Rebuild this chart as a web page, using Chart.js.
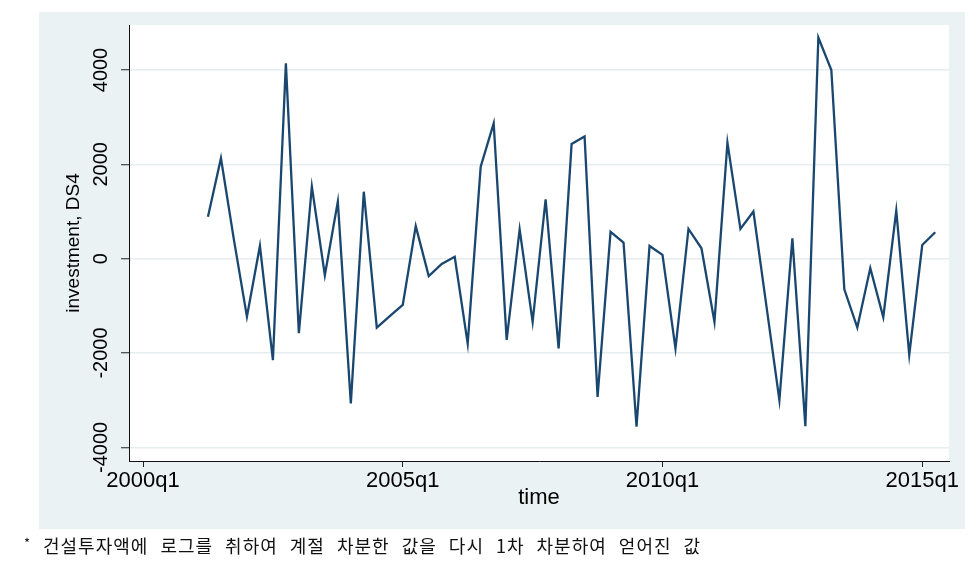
<!DOCTYPE html>
<html>
<head>
<meta charset="utf-8">
<script src="https://cdn.jsdelivr.net/npm/chart.js@4.4.1/dist/chart.umd.min.js"></script>
<style>
    html, body { margin: 0; padding: 0; background: #fff; }
    #wrap { position: relative; width: 976px; height: 563px; overflow: hidden; }
    #chart { position: absolute; left: 0; top: 0; }
    .note { position: absolute; font-family: "Noto Sans CJK KR", sans-serif; color: #111; white-space: nowrap; }
</style>
</head>
<body>
<div id="wrap">
    <canvas id="chart" width="976" height="563"></canvas>
    <span class="note" style="left:24px; top:533px; font-size:13px;">*</span>
    <span class="note" style="left:43px; top:535px; font-size:18px; line-height:20px; letter-spacing:1px; word-spacing:7px;">건설투자액에 로그를 취하여 계절 차분한 값을 다시 1차 차분하여 얻어진 값</span>
</div>
<script>
// Quarters with data (2001q2 .. 2015q2)
const quarters = [
    '2001q2', '2001q3', '2001q4', '2002q1', '2002q2', '2002q3', '2002q4',
    '2003q1', '2003q2', '2003q3', '2003q4', '2004q1', '2004q2', '2004q3', '2004q4',
    '2005q1', '2005q2', '2005q3', '2005q4', '2006q1', '2006q2', '2006q3', '2006q4',
    '2007q1', '2007q2', '2007q3', '2007q4', '2008q1', '2008q2', '2008q3', '2008q4',
    '2009q1', '2009q2', '2009q3', '2009q4', '2010q1', '2010q2', '2010q3', '2010q4',
    '2011q1', '2011q2', '2011q3', '2011q4', '2012q1', '2012q2', '2012q3', '2012q4',
    '2013q1', '2013q2', '2013q3', '2013q4', '2014q1', '2014q2', '2014q3', '2014q4',
    '2015q1', '2015q2'
];

// investment, DS4
const investmentDS4 = [
    890, 2130, 400, -1230, 270, -2150, 4140,
    -1580, 1530, -350, 1210, -3070, 1420, -1460, -1220,
    -980, 690, -370, -110, 40, -1800, 1950, 2870,
    -1720, 620, -1340, 1260, -1900, 2430, 2590, -2930,
    570, 340, -3560, 270, 80, -1900, 630, 220,
    -1340, 2460, 630, 1000, -1000, -3000, 430, -3550,
    4690, 4000, -650, -1460, -200, -1240, 1020, -2040,
    290, 560
];

const xTickLabels = ['2000q1', '2005q1', '2010q1', '2015q1'];
const yTickValues = [-4000, -2000, 0, 2000, 4000];

const FONT = '"Liberation Sans", Arial, sans-serif';

// quarter label -> number of quarters since 2000q1
function quarterIndex(label) {
    const year = parseInt(label.slice(0, 4), 10);
    const q = parseInt(label.slice(5), 10);
    return (year - 2000) * 4 + (q - 1);
}

const xTickValues = xTickLabels.map(quarterIndex);
const points = quarters.map((q, i) => ({ x: quarterIndex(q), y: investmentDS4[i] }));

// Stata-like backdrop: light panel with white plot region
const backdrop = {
    id: 'backdrop',
    beforeDraw(chart) {
        const { ctx, chartArea: a } = chart;
        ctx.save();
        ctx.fillStyle = '#fff';
        ctx.fillRect(0, 0, chart.width, chart.height);
        ctx.fillStyle = '#EAF2F3';
        ctx.fillRect(39, 12, 926, 517);
        ctx.fillStyle = '#fff';
        ctx.fillRect(a.left, a.top, a.right - a.left, a.bottom - a.top);
        ctx.restore();
    }
};

// rotated y tick labels, centred on each tick
const yLabels = {
    id: 'yLabels',
    afterDraw(chart) {
        const s = chart.scales.y;
        const ctx = chart.ctx;
        ctx.save();
        ctx.font = '20px ' + FONT;
        ctx.fillStyle = '#000';
        ctx.textAlign = 'center';
        ctx.textBaseline = 'middle';
        s.ticks.forEach(t => {
            ctx.save();
            ctx.translate(s.right - 28, s.getPixelForValue(t.value));
            ctx.rotate(-Math.PI / 2);
            ctx.fillText(String(t.value), 0, 0);
            ctx.restore();
        });
        ctx.restore();
    }
};

new Chart(document.getElementById('chart'), {
    type: 'line',
    data: {
        datasets: [{
            data: points,
            borderColor: '#1A476F',
            borderWidth: 2.3,
            pointRadius: 0,
            tension: 0,
            fill: false
        }]
    },
    options: {
        responsive: false,
        animation: false,
        devicePixelRatio: 1,
        layout: { padding: { left: 0, top: 25, right: 27, bottom: 0 } },
        plugins: {
            legend: { display: false },
            tooltip: { enabled: false }
        },
        scales: {
            x: {
                type: 'linear',
                min: -1.08,
                max: 62.06,
                afterBuildTicks: s => { s.ticks = xTickValues.map(v => ({ value: v })); },
                afterFit: s => { s.height = 102; },
                grid: { drawOnChartArea: false, drawTicks: true, tickLength: 6, tickColor: '#222', tickWidth: 1 },
                border: { display: true, color: '#111', width: 1 },
                ticks: {
                    autoSkip: false,
                    maxRotation: 0,
                    padding: 1,
                    color: '#000',
                    font: { family: FONT, size: 22 },
                    callback: v => xTickLabels[xTickValues.indexOf(v)] || ''
                },
                title: {
                    display: true,
                    text: 'time',
                    color: '#000',
                    font: { family: FONT, size: 22 },
                    padding: { top: 0, bottom: 52 }
                }
            },
            y: {
                type: 'linear',
                min: -4289,
                max: 4954,
                afterBuildTicks: s => { s.ticks = yTickValues.map(v => ({ value: v })); },
                afterFit: s => { s.width = 129; },
                grid: { color: '#E6EDEF', lineWidth: 1.5, tickLength: 8, tickColor: '#222', tickWidth: 1 },
                border: { display: true, color: '#111', width: 1 },
                ticks: { display: false },
                title: {
                    display: true,
                    text: 'investment, DS4',
                    color: '#000',
                    font: { family: FONT, size: 19 },
                    padding: { top: 62, bottom: 0 }
                }
            }
        }
    },
    plugins: [backdrop, yLabels]
});
</script>
</body>
</html>
